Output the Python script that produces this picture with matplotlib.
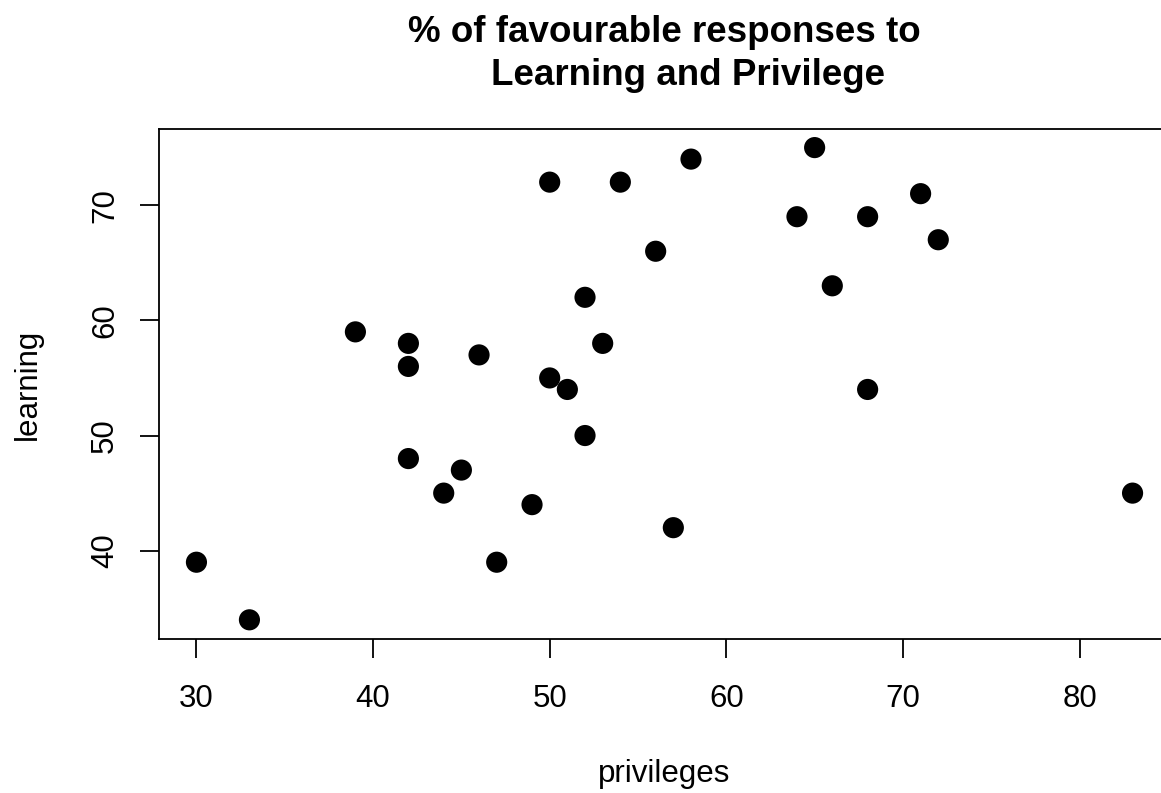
import numpy as np
import matplotlib.pyplot as plt

# --- data ---
privileges = [30, 33, 39, 42, 42, 42, 44, 45, 46, 47, 49, 50, 50, 51, 52,
              52, 53, 54, 56, 57, 58, 64, 65, 66, 68, 68, 71, 72, 83]
learning = [39, 34, 59, 58, 56, 48, 45, 47, 57, 39, 44, 72, 55, 54, 62,
            50, 58, 72, 66, 42, 74, 69, 75, 63, 69, 54, 71, 67, 45]
xticks = [30, 40, 50, 60, 70, 80]
yticks = [40, 50, 60, 70]

plt.rcParams['font.family'] = ['Liberation Sans', 'DejaVu Sans']

W, H = 1161, 793
fig = plt.figure(figsize=(W / 100, H / 100), dpi=100)
left, right, top, bottom = 159, 1170, 128.7, 638.7
ax = fig.add_axes([left / W, 1 - bottom / H, (right - left) / W, (bottom - top) / H])

ax.scatter(privileges, learning, s=232, color='black', edgecolors='none', zorder=3)

# R style 4% padding
def padded(v):
    lo, hi = min(v), max(v)
    d = (hi - lo) * 0.04
    return lo - d, hi + d

ax.set_xlim(*padded(privileges))
ax.set_ylim(*padded(learning))
ax.set_xticks(xticks)
ax.set_yticks(yticks)
ax.tick_params(axis='both', direction='out', length=13.6, width=1.3, labelsize=22.5)
ax.tick_params(axis='x', pad=35.4)
ax.tick_params(axis='y', pad=25.3)
for lab in ax.get_xticklabels():
    lab.set_va('baseline')
for lab in ax.get_yticklabels():
    lab.set_rotation(90)
    lab.set_va('center')
    lab.set_ha('center')
for sp in ax.spines.values():
    sp.set_linewidth(1.3)

fig.text(664 / W, 1 - 782 / H, 'privileges', ha='center', va='baseline', fontsize=22.5)
fig.text(36 / W, 1 - 384 / H, 'learning', ha='center', va='baseline', fontsize=22.5,
         rotation=90, rotation_mode='anchor')
fig.text(664 / W, 1 - 42 / H, '% of favourable responses to', ha='center', va='baseline',
         fontsize=26.5, fontweight='bold')
fig.text(688 / W, 1 - 85 / H, 'Learning and Privilege', ha='center', va='baseline',
         fontsize=26.5, fontweight='bold')

fig.savefig('out.png', dpi=100)
